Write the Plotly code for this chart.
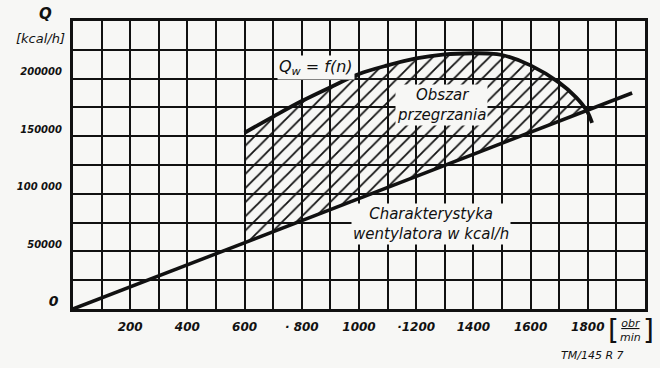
import plotly.graph_objects as go

# ---- data ----
curve_rpm = [600, 700, 800, 900, 1000, 1100, 1200, 1300, 1400, 1450, 1500, 1600, 1700, 1760, 1797, 1815]
curve_q = [153000, 167000, 180500, 192500, 204000, 211500, 217500, 221000, 222000, 221800, 220500, 211500, 196500, 183500, 171900, 161500]

fan_rpm = [0, 1955]
fan_q = [0, 187500]

# hatched region: Qw curve above the fan line, from 600 rpm to the crossing
hatch_rpm = [600, 700, 800, 900, 1000, 1100, 1200, 1300, 1400, 1450, 1500, 1600, 1700, 1760, 1797, 600]
hatch_q = [153000, 167000, 180500, 192500, 204000, 211500, 217500, 221000, 222000, 221800, 220500, 211500, 196500, 183500, 171900, 57500]

x_tickvals = [200, 400, 600, 800, 1000, 1200, 1400, 1600, 1800]
x_ticktext = ["200", "400", "600", "· 800", "1000", "·1200", "1400", "1600", "1800"]
y_tickvals = [0, 50000, 100000, 150000, 200000]
y_ticktext = ["<span style='font-size:14px'>0</span> ", "50000", "100 000", "150000", "200000"]

BG = "#f7f7f5"
INK = "#111111"
FONT = "DejaVu Sans"

fig = go.Figure()

fig.add_trace(go.Scatter(
    x=hatch_rpm, y=hatch_q, mode="lines", fill="toself",
    line=dict(width=0, color="rgba(0,0,0,0)"),
    fillcolor="rgba(0,0,0,0)",
    fillpattern=dict(shape="/", fgcolor=INK, fgopacity=1, bgcolor="rgba(0,0,0,0)",
                     size=10, solidity=0.18),
    hoverinfo="skip", showlegend=False))

fig.add_trace(go.Scatter(
    x=fan_rpm, y=fan_q, mode="lines",
    line=dict(color=INK, width=3.5), showlegend=False))

fig.add_trace(go.Scatter(
    x=curve_rpm, y=curve_q, mode="lines", line_shape="spline",
    line=dict(color=INK, width=3.8), showlegend=False))

fig.update_layout(
    width=660, height=368,
    margin=dict(l=73, r=15, t=21, b=59),
    paper_bgcolor=BG, plot_bgcolor=BG,
    font=dict(family=FONT, color=INK, style="italic", weight="bold"),
    xaxis=dict(
        range=[0, 2000], tickvals=x_tickvals, ticktext=x_ticktext,
        showgrid=True, gridcolor=INK, gridwidth=2,
        minor=dict(dtick=100, tick0=0, showgrid=True, gridcolor=INK, gridwidth=2),
        showline=True, linecolor=INK, linewidth=3, mirror=True,
        ticks="", ticklabelstandoff=5, zeroline=False,
        tickfont=dict(size=12, family=FONT, style="italic", weight="bold"),
    ),
    yaxis=dict(
        range=[0, 250000], tickvals=y_tickvals, ticktext=y_ticktext,
        showgrid=True, gridcolor=INK, gridwidth=2,
        minor=dict(dtick=25000, tick0=0, showgrid=True, gridcolor=INK, gridwidth=2),
        showline=True, linecolor=INK, linewidth=3, mirror=True,
        ticks="", ticklabelstandoff=6, ticklabelshift=-7, zeroline=False,
        tickfont=dict(size=10, family=FONT, style="italic", weight="bold"),
    ),
)

annos = [
    dict(x=45, y=14, text="Q", font=dict(size=15)),
    dict(x=40, y=38, text="[kcal/h]", font=dict(size=13, weight="normal")),
    dict(x=592, y=355, text="TM/145 R 7", font=dict(size=11, weight="normal")),
    dict(x=630, y=330, text="<u>obr</u><br>min", font=dict(size=11, weight="normal")),
    dict(x=613, y=330, text="[", font=dict(size=28, weight="normal", style="normal")),
    dict(x=648, y=330, text="]", font=dict(size=28, weight="normal", style="normal")),
]
for a in annos:
    fig.add_annotation(xref="paper", yref="paper", x=(a["x"] - 73) / 572,
                       y=(309 - a["y"]) / 288, text=a["text"], showarrow=False,
                       xanchor="center", yanchor="middle", font=a["font"])

fig.add_annotation(x=850, y=210000, text="Q<sub>w</sub> = f(n)", showarrow=False,
                   font=dict(size=16, weight="normal"), bgcolor=BG)
fig.add_annotation(x=1290, y=177000, text="Obszar<br>przegrzania", showarrow=False,
                   font=dict(size=15, weight="normal"), bgcolor=BG)
fig.add_annotation(x=1250, y=74000, text="Charakterystyka<br>wentylatora w kcal/h", showarrow=False,
                   font=dict(size=15, weight="normal"), bgcolor=BG)

fig.write_html("out.html", config={"displayModeBar": False},
               post_script="document.body.style.margin='0';document.body.style.overflow='hidden';"
                           "document.body.style.background='%s';" % BG)
